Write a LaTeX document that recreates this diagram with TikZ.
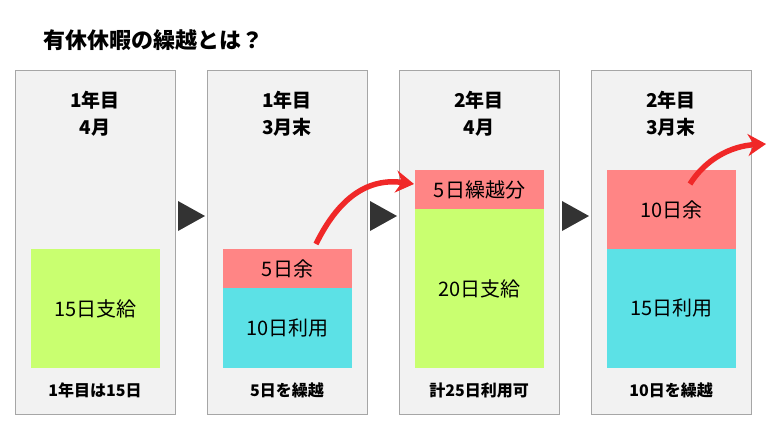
\documentclass[tikz,border=0pt]{standalone}
\usepackage{fontspec}
\setmainfont{Noto Sans CJK JP}
\definecolor{panelgray}{HTML}{F2F2F2}
\definecolor{kyugreen}{HTML}{C9FF70}
\definecolor{kyured}{HTML}{FF8585}
\definecolor{kyucyan}{HTML}{5CE1E6}
\definecolor{arrowred}{HTML}{F02828}
\tikzset{
  panel/.style={draw=gray!70, fill=panelgray, line width=0.8pt},
  blk/.style={draw=none, minimum width=129pt, inner sep=0pt, font=\fontsize{20}{24}\selectfont},
  head/.style={font=\bfseries\fontsize{19}{27}\selectfont, align=center},
  foot/.style={font=\bfseries\fontsize{16}{18}\selectfont},
  steptri/.style={fill=black!80, draw=none},
  carry/.style={->, line width=5.5pt, arrowred, -{Stealth[length=18pt,width=22pt]}}
}
\usetikzlibrary{arrows.meta}
\begin{document}
\begin{tikzpicture}[x=1pt, y=-1pt]
    \useasboundingbox (0,0) rectangle (768,432);
    \node[anchor=west, font=\bfseries\fontsize{22}{26}\selectfont] (title) at (40,40) {有休休暇の繰越とは？};

    % panels
    \foreach \px in {15,207,399,591}
        \draw[panel] (\px,70) rectangle (\px+160,414);

    % step triangles
    \foreach \tx in {178,370,562}
        \fill[steptri] (\tx,201) -- (\tx+27,216) -- (\tx,231) -- cycle;

    % panel 1
    \node[head] (h1) at (95,114) {1年目\\4月};
    \node[blk, fill=kyugreen, minimum height=119pt] (p1a) at (95.5,308.5) {15日支給};
    \node[foot] (f1) at (95,390) {1年目は15日};

    % panel 2
    \node[head] (h2) at (287,114) {1年目\\3月末};
    \node[blk, fill=kyured, minimum height=39pt] (p2a) at (287.5,268.5) {5日余};
    \node[blk, fill=kyucyan, minimum height=80pt] (p2b) at (287.5,328) {10日利用};
    \node[foot] (f2) at (287,390) {5日を繰越};

    % panel 3
    \node[head] (h3) at (479,114) {2年目\\4月};
    \node[blk, fill=kyured, minimum height=39pt] (p3a) at (479.5,189.5) {5日繰越分};
    \node[blk, fill=kyugreen, minimum height=159pt] (p3b) at (479.5,288.5) {20日支給};
    \node[foot] (f3) at (479,390) {計25日利用可};

    % panel 4
    \node[head] (h4) at (671,114) {2年目\\3月末};
    \node[blk, fill=kyured, minimum height=79pt] (p4a) at (671.5,209.5) {10日余};
    \node[blk, fill=kyucyan, minimum height=119pt] (p4b) at (671.5,308.5) {15日利用};
    \node[foot] (f4) at (671,390) {10日を繰越};

    % carry-over arrows
    \coordinate (c2) at (316,244);
    \coordinate (c3) at (414,184);
    \coordinate (c4) at (690,184);
    \coordinate (c5) at (766,144);
    \draw[carry] (c2) .. controls (340,195) and (370,178) .. (c3);
    \draw[carry] (c4) .. controls (705,160) and (730,146) .. (c5);
\end{tikzpicture}
\end{document}
